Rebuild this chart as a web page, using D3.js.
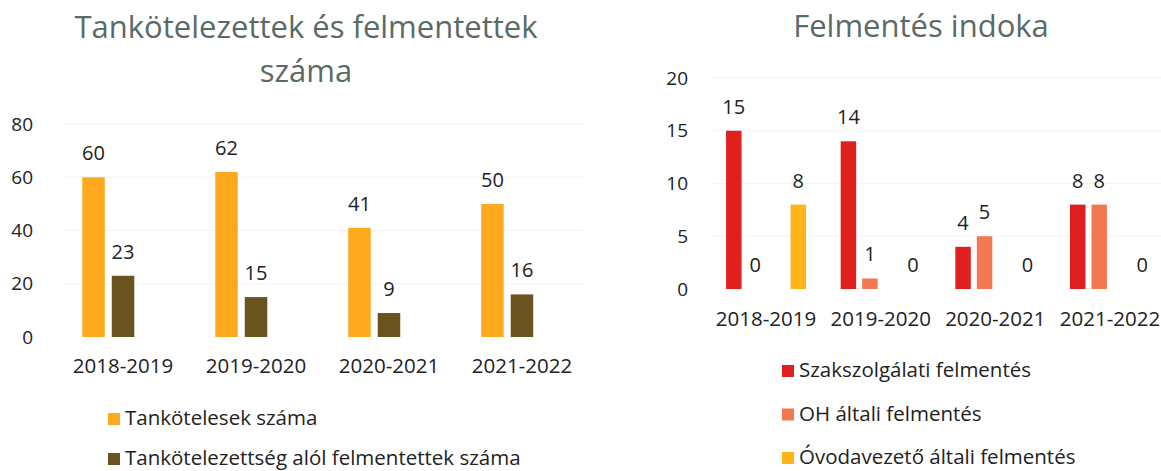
<!DOCTYPE html>
<html>
<head>
<meta charset="utf-8">
<script src="https://cdnjs.cloudflare.com/ajax/libs/d3/7.8.5/d3.min.js"></script>
<style>
  body { margin: 0; background: #fff; }
  svg { display: block; font-family: "Open Sans", sans-serif; }
</style>
</head>
<body>
<svg id="chart" width="1161" height="471"></svg>
<script>
// --- data ---
var years = ["2018-2019", "2019-2020", "2020-2021", "2021-2022"];

var leftTitle = ["Tankötelezettek és felmentettek", "száma"];
var leftSeries = ["Tankötelesek száma", "Tankötelezettség alól felmentettek száma"];
var leftColors = ["#ffa91f", "#6b5320"];
var tankotelesek = [60, 62, 41, 50];
var felmentettek = [23, 15, 9, 16];
var leftTicks = [0, 20, 40, 60, 80];

var rightTitle = ["Felmentés indoka"];
var rightSeries = ["Szakszolgálati felmentés", "OH általi felmentés", "Óvodavezető általi felmentés"];
var rightColors = ["#e0201f", "#f4784f", "#ffb419"];
var szakszolgalati = [15, 14, 4, 8];
var ohAltali = [0, 1, 5, 8];
var ovodavezeto = [8, 0, 0, 0];
var rightTicks = [0, 5, 10, 15, 20];

var svg = d3.select("#chart");
var textColor = "#222";
var titleColor = "#5a6b66";

function drawChart(opts) {
    var g = svg.append("g");

    // title
    opts.title.forEach(function (line, i) {
        g.append("text")
            .attr("x", opts.titleX)
            .attr("y", opts.titleY + i * 44)
            .attr("text-anchor", "middle")
            .attr("fill", titleColor)
            .style("font-size", "31px")
            .text(line);
    });

    var y = d3.scaleLinear().domain([0, opts.ticks[opts.ticks.length - 1]])
        .range([opts.y0, opts.y1]);

    var x0 = d3.scaleBand().domain(years)
        .range(opts.xRange)
        .paddingInner(opts.padInner)
        .paddingOuter(opts.padOuter);

    var x1 = d3.scaleBand().domain(opts.slots)
        .range([0, x0.bandwidth()])
        .paddingInner(opts.slotPad);

    // gridlines (very faint in the original)
    g.append("g").selectAll("line")
        .data(opts.ticks.slice(1))
        .enter().append("line")
        .attr("x1", opts.xRange[0])
        .attr("x2", opts.xRange[1])
        .attr("y1", function (d) { return y(d); })
        .attr("y2", function (d) { return y(d); })
        .attr("stroke", "#f3f3f3")
        .attr("stroke-width", 1);

    // y axis labels
    var ya = g.append("g")
        .attr("transform", "translate(" + opts.yLabelX + ",0)")
        .call(d3.axisLeft(y).tickValues(opts.ticks).tickSize(0).tickPadding(0));
    ya.select(".domain").remove();
    ya.selectAll("text")
        .attr("fill", textColor)
        .style("font-size", "19px")
        .style("font-family", "Open Sans");

    // x axis labels
    var xa = g.append("g")
        .attr("transform", "translate(0," + opts.xLabelY + ")")
        .call(d3.axisBottom(x0).tickSize(0).tickPadding(0));
    xa.select(".domain").remove();
    xa.selectAll("text")
        .attr("dy", 0)
        .attr("fill", textColor)
        .style("font-size", "20.5px")
        .style("font-family", "Open Sans");

    // bars + value labels
    opts.series.forEach(function (s) {
        var slot = opts.slots[s.slot];
        var sg = g.append("g");
        sg.selectAll("rect")
            .data(s.values)
            .enter().append("rect")
            .attr("x", function (d, i) { return x0(years[i]) + x1(slot); })
            .attr("y", function (d) { return y(d); })
            .attr("width", x1.bandwidth())
            .attr("height", function (d) { return y(0) - y(d); })
            .attr("fill", s.color);
        sg.selectAll("text")
            .data(s.values)
            .enter().append("text")
            .attr("x", function (d, i) { return x0(years[i]) + x1(slot) + x1.bandwidth() / 2; })
            .attr("y", function (d) { return y(d) - opts.labelGap; })
            .attr("text-anchor", "middle")
            .attr("fill", textColor)
            .style("font-size", "20px")
            .text(function (d) { return d; });
    });

    // legend
    opts.series.forEach(function (s, si) {
        var ly = opts.legendY + si * opts.legendStep;
        g.append("rect")
            .attr("x", opts.legendX)
            .attr("y", ly - 12)
            .attr("width", 12)
            .attr("height", 12)
            .attr("fill", s.color);
        g.append("text")
            .attr("x", opts.legendX + 17)
            .attr("y", ly)
            .attr("fill", textColor)
            .style("font-size", "20.5px")
            .text(s.name);
    });
}

drawChart({
    title: leftTitle,
    titleX: 306, titleY: 38,
    ticks: leftTicks,
    y0: 337, y1: 124,
    xRange: [63, 582],
    padInner: 0.387, padOuter: 0.145,
    slots: ["a", "b", "c"], slotPad: 0.237,
    yLabelX: 33, xLabelY: 373,
    labelGap: 17,
    legendX: 108, legendY: 425, legendStep: 40,
    series: [
        {name: leftSeries[0], values: tankotelesek, color: leftColors[0], slot: 0},
        {name: leftSeries[1], values: felmentettek, color: leftColors[1], slot: 1}
    ]
});

drawChart({
    title: rightTitle,
    titleX: 921, titleY: 37,
    ticks: rightTicks,
    y0: 289, y1: 78,
    xRange: [710, 1166],
    padInner: 0.3025, padOuter: 0.14,
    slots: ["a", "b", "c", "d"], slotPad: 0.28,
    yLabelX: 688, xLabelY: 326,
    labelGap: 17,
    legendX: 782, legendY: 377, legendStep: 43.5,
    series: [
        {name: rightSeries[0], values: szakszolgalati, color: rightColors[0], slot: 0},
        {name: rightSeries[1], values: ohAltali, color: rightColors[1], slot: 1},
        {name: rightSeries[2], values: ovodavezeto, color: rightColors[2], slot: 3}
    ]
});
</script>
</body>
</html>
